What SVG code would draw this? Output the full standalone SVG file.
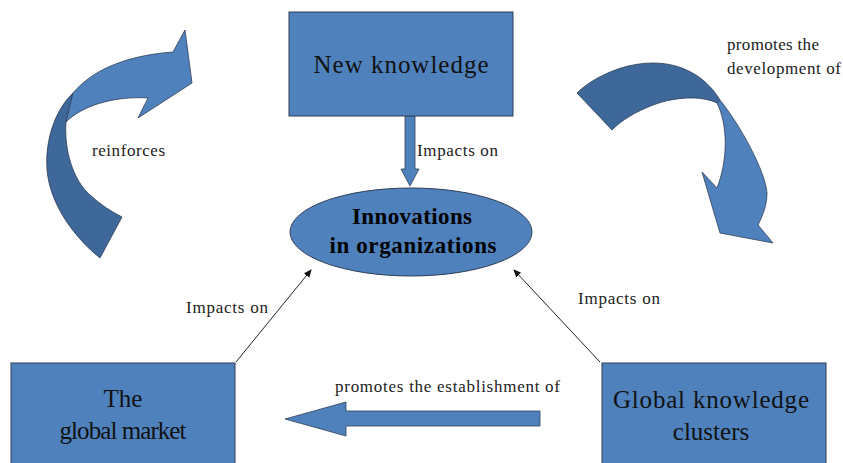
<svg xmlns="http://www.w3.org/2000/svg" width="843" height="463" viewBox="0 0 843 463">
<defs>
<style>
.box{fill:#4F81BD;stroke:#2F3F55;stroke-width:1}
.big{font-family:"Liberation Serif",serif;font-size:25px;fill:#111;text-anchor:middle}
.bold{font-family:"Liberation Serif",serif;font-size:23px;font-weight:bold;fill:#000;text-anchor:middle}
.lbl{font-family:"Liberation Serif",serif;font-size:17px;fill:#222}
.thin{stroke:#222;stroke-width:1;fill:none}
.fat{fill:#4F81BD;stroke:#2F3F55;stroke-width:0.8}
.dark{fill:#3D6899;stroke:#2F3F55;stroke-width:0.8}
</style>
<marker id="ah" markerWidth="8" markerHeight="8" refX="7" refY="4" orient="auto" markerUnits="userSpaceOnUse">
<path d="M0,0.5 L8,4 L0,7.5 Z" fill="#111"/>
</marker>
</defs>
<rect width="843" height="463" fill="#fff"/>

<g id="connectors">
<path class="fat" d="M405,116 L415,116 L415,169 L419,169 L410,186 L401,169 L405,169 Z"/>
<line class="thin" x1="236" y1="362" x2="311" y2="270" marker-end="url(#ah)"/>
<line class="thin" x1="600" y1="362" x2="514" y2="270" marker-end="url(#ah)"/>
<path class="fat" d="M540,411 L346,411 L346,402 L285,419 L346,436 L346,426 L540,426 Z"/>
<g id="curve-left">
<path class="dark" d="M100,258 C75,238 50,205 47,170 C45,140 55,110 73,93 L66,122 C64,150 73,180 90,195 C100,204 110,211 122,217 Z"/>
<path class="fat" d="M73,93 C90,73 120,56 173,52 L185,30 L192,83 L138,118 L148,98 C120,96 85,103 66,122 Z"/>
</g>
<g id="curve-right">
<path class="dark" d="M577,93 C590,80 620,63 653,63 C680,63 705,75 720,100 L717,103 C705,97 680,95 653,105 C635,112 622,120 612,130 Z"/>
<path class="fat" d="M720,100 C740,125 765,170 767,193 C767,205 763,215 758,225 L773,243 L720,233 L702,172 L717,188 C728,160 728,125 717,103 Z"/>
</g>
<text class="lbl" x="417" y="156" textLength="81">Impacts on</text>
<text class="lbl" x="186" y="313" textLength="82">Impacts on</text>
<text class="lbl" x="578" y="304" textLength="82">Impacts on</text>
<text class="lbl" x="335" y="392" textLength="225">promotes the establishment of</text>
<text class="lbl" x="92" y="156" textLength="73">reinforces</text>
<text class="lbl" x="727" y="50" textLength="92">promotes the</text>
<text class="lbl" x="727" y="74" textLength="114">development of</text>
</g>

<g id="new-knowledge">
<rect class="box" x="289" y="12" width="224" height="104"/>
<text class="big" x="401" y="73" textLength="175">New knowledge</text>
</g>

<g id="innovations">
<ellipse class="box" cx="411" cy="232" rx="121" ry="44"/>
<text class="bold" x="412" y="224" textLength="120">Innovations</text>
<text class="bold" x="413" y="253" textLength="167">in organizations</text>
</g>

<g id="global-market">
<rect class="box" x="11" y="363" width="224" height="105"/>
<text class="big" x="123" y="407">The</text>
<text class="big" x="123" y="439" textLength="127">global market</text>
</g>

<g id="global-clusters">
<rect class="box" x="602" y="363" width="224" height="105"/>
<text class="big" x="711" y="408" textLength="196">Global knowledge</text>
<text class="big" x="711" y="440">clusters</text>
</g>
</svg>
